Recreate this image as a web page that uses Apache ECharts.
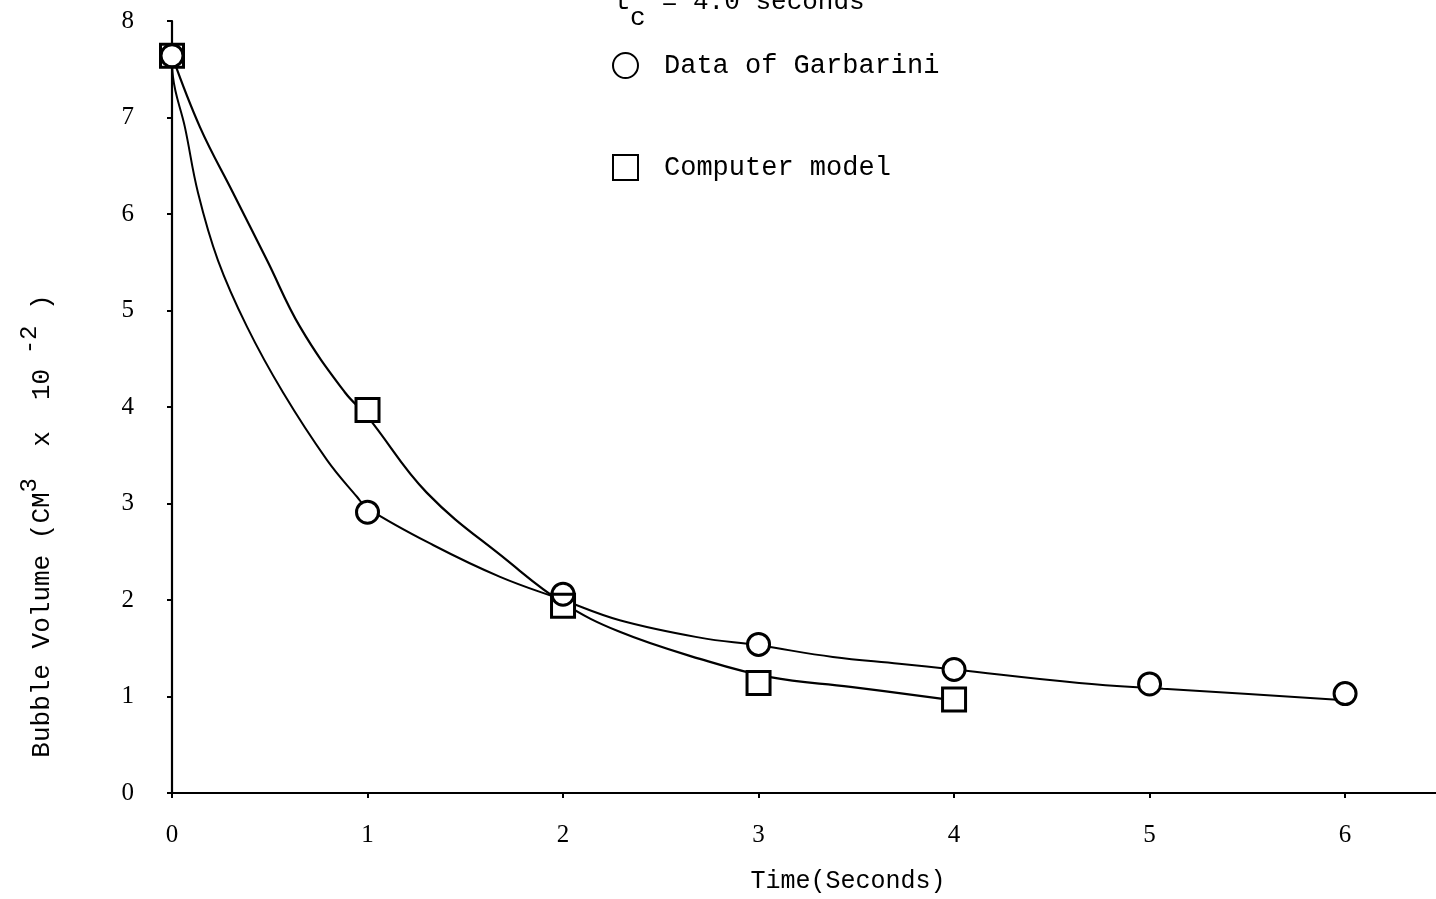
<!DOCTYPE html>
<html>
<head>
<meta charset="utf-8">
<title>Bubble Volume vs Time</title>
<script src="https://cdn.jsdelivr.net/npm/echarts@6/dist/echarts.min.js"></script>
<style>
  html, body { margin: 0; padding: 0; background: #fff; }
  #chart { width: 1436px; height: 899px; }
</style>
</head>
<body>
<div id="chart"></div>
<script>
// Measured bubble volume (cm^3 x 10^-2) against time (s)
const sampleTimes = [0, 1, 2, 3, 4, 5, 6];
const garbariniVolume = [7.64, 2.91, 2.06, 1.54, 1.28, 1.13, 1.03];

// Computer model predictions
const modelTimes = [0, 1, 2, 3, 4];
const modelVolume = [7.64, 3.97, 1.94, 1.14, 0.97];

// Hand-fitted curves through each data set
const garbariniCurveT = [0, 0.005, 0.066, 0.133, 0.235, 0.384, 0.568, 0.793, 0.946, 1.0, 1.335, 1.678, 2.0, 2.29, 2.70, 3.0, 3.38, 3.72, 4.0, 4.64, 5.07, 5.94, 6.0];
const garbariniCurveV = [7.64, 7.42, 6.90, 6.22, 5.52, 4.83, 4.15, 3.45, 3.07, 2.95, 2.57, 2.24, 2.0, 1.79, 1.61, 1.53, 1.41, 1.34, 1.28, 1.14, 1.08, 0.97, 0.96];
const modelCurveT = [0, 0.143, 0.312, 0.486, 0.655, 0.885, 1.0, 1.304, 1.714, 2.0, 2.29, 2.70, 3.06, 3.47, 4.0];
const modelCurveV = [7.64, 6.90, 6.22, 5.52, 4.83, 4.15, 3.90, 3.11, 2.41, 1.97, 1.67, 1.39, 1.20, 1.10, 0.96];

// Axis ticks
const timeTicks = [0, 1, 2, 3, 4, 5, 6];
const volumeTicks = [0, 1, 2, 3, 4, 5, 6, 7, 8];

const pairs = (xs, ys) => xs.map((x, i) => [x, ys[i]]);

const INK = '#000';
const MONO = '"Liberation Mono", "DejaVu Sans Mono", monospace';
const SERIF = '"Liberation Serif", "DejaVu Serif", serif';

const chart = echarts.init(document.getElementById('chart'), null, { renderer: 'canvas' });

chart.setOption({
  animation: false,
  backgroundColor: '#fff',
  grid: { left: 172, right: 0, top: 21, bottom: 106, containLabel: false },
  legend: {
    data: ['Data of Garbarini', 'Computer model'],
    orient: 'vertical',
    left: 607,
    top: 47,
    itemGap: 75,
    itemWidth: 25,
    itemHeight: 25,
    textStyle: { fontFamily: MONO, fontSize: 27, color: INK, padding: [0, 0, 0, 21] },
    selectedMode: false
  },
  graphic: [
    {
      type: 'text', left: 615, top: -11,
      style: { text: 't  = 4.0 seconds', font: '26px ' + MONO, fill: INK }
    },
    {
      type: 'text', left: 630, top: 5,
      style: { text: 'c', font: '26px ' + MONO, fill: INK }
    }
  ],
  xAxis: {
    type: 'value',
    min: 0,
    max: 6.465,
    interval: 1,
    name: 'Time(Seconds)',
    nameLocation: 'middle',
    nameGap: 76,
    nameTextStyle: { fontFamily: MONO, fontSize: 25, color: INK, padding: [0, 0, 0, 88] },
    axisLine: { show: true, lineStyle: { color: INK, width: 2.2 } },
    axisTick: { show: true, length: 5, customValues: timeTicks, lineStyle: { color: INK, width: 2 } },
    axisLabel: { customValues: timeTicks, margin: 30, fontFamily: SERIF, fontSize: 25, color: INK },
    splitLine: { show: false }
  },
  yAxis: {
    type: 'value',
    min: 0,
    max: 8,
    interval: 1,
    name: '{n|Bubble Volume (CM}{s|3}{n|  x  10}{s| -2}{n| )}',
    nameLocation: 'middle',
    nameGap: 106,
    nameTextStyle: {
      color: INK,
      padding: [0, 238, 0, 0],
      rich: {
        n: { fontFamily: MONO, fontSize: 26, color: INK, lineHeight: 48 },
        s: { fontFamily: MONO, fontSize: 24, color: INK, lineHeight: 24, verticalAlign: 'top' }
      }
    },
    axisLine: { show: true, lineStyle: { color: INK, width: 2.2 } },
    axisTick: { show: true, length: 5, customValues: volumeTicks, lineStyle: { color: INK, width: 2 } },
    axisLabel: { customValues: volumeTicks, margin: 38, fontFamily: SERIF, fontSize: 25, color: INK },
    splitLine: { show: false }
  },
  series: [
    {
      name: 'Garbarini fit',
      type: 'line',
      data: pairs(garbariniCurveT, garbariniCurveV),
      smooth: 0.4,
      showSymbol: false,
      lineStyle: { color: INK, width: 2 },
      z: 2,
      silent: true
    },
    {
      name: 'Model fit',
      type: 'line',
      data: pairs(modelCurveT, modelCurveV),
      smooth: 0.4,
      showSymbol: false,
      lineStyle: { color: INK, width: 2.2 },
      z: 2,
      silent: true
    },
    {
      // white backing for the model squares so the curves stop at their edges
      name: 'model backing',
      type: 'scatter',
      data: pairs(modelTimes, modelVolume),
      symbol: 'rect',
      symbolSize: 23,
      itemStyle: { color: '#fff', borderWidth: 0, opacity: 1 },
      z: 3,
      silent: true
    },
    {
      name: 'Data of Garbarini',
      type: 'scatter',
      data: pairs(sampleTimes, garbariniVolume),
      symbol: 'circle',
      symbolSize: 22,
      itemStyle: { color: '#fff', borderColor: INK, borderWidth: 3, opacity: 1 },
      z: 4
    },
    {
      name: 'Computer model',
      type: 'scatter',
      data: pairs(modelTimes, modelVolume),
      symbol: 'rect',
      symbolSize: 23,
      itemStyle: { color: 'rgba(255,255,255,0)', borderColor: INK, borderWidth: 3, opacity: 1 },
      z: 5
    }
  ]
});
</script>
</body>
</html>
